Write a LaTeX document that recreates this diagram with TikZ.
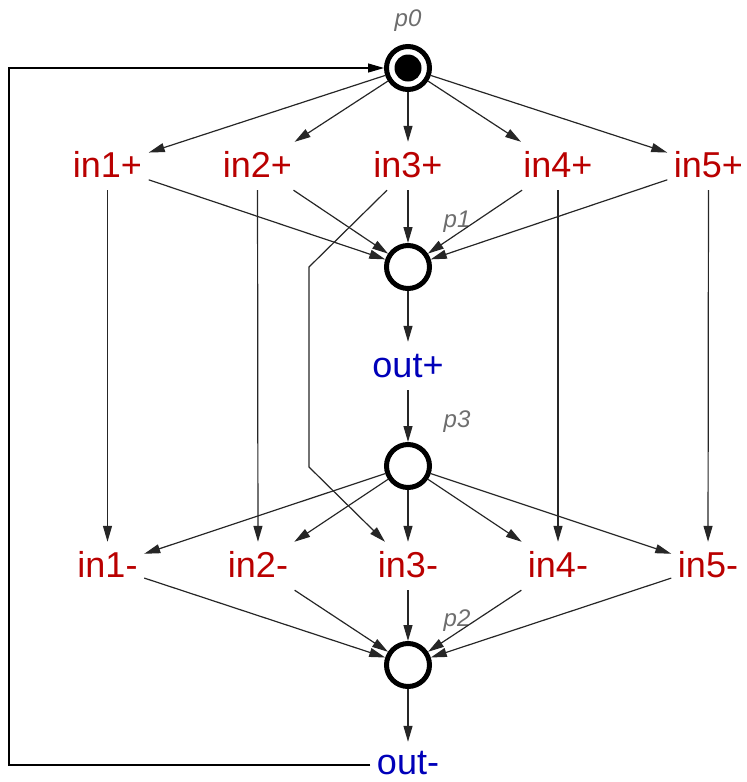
\documentclass[tikz,border=0pt]{standalone}
\usepackage{fontspec}
\setmainfont{Liberation Sans}
\usetikzlibrary{arrows.meta,calc}
\definecolor{tred}{RGB}{185,0,0}
\definecolor{tblue}{RGB}{0,0,185}
\definecolor{lblgray}{RGB}{110,110,110}
\begin{document}
\begin{tikzpicture}[x=1pt,y=-1pt,
  trans/.style={anchor=base, inner xsep=6.5pt, inner ysep=0pt, text height=35pt, text depth=13pt, font=\fontsize{36}{40}\selectfont},
  tin/.style={trans, text=tred},
  tout/.style={trans, text=tblue},
  placenode/.style={circle, draw=black, line width=5pt, minimum size=43pt, inner sep=0pt},
  plabel/.style={anchor=base, text=lblgray, inner sep=0pt, font=\fontsize{24}{26}\selectfont\itshape},
  flow/.style={draw=black!85, line width=1.2pt, -{Triangle[length=16pt,width=9pt]}},
  ]
\useasboundingbox (0,0) rectangle (747,782);

% places
\node[placenode] (p0) at (408,68) {};
\fill[black] (p0.center) circle[radius=13.5pt];
\node[plabel] (lp0) at (408,26) {p0};
\node[placenode] (p1) at (408,267) {};
\node[plabel] (lp1) at (457,227) {p1};
\node[placenode] (p3) at (408,466) {};
\node[plabel] (lp3) at (457,427) {p3};
\node[placenode] (p2) at (408,665) {};
\node[plabel] (lp2) at (457,626) {p2};

% transitions row 1
\node[tin] (i1p) at (107.5,177) {in1+};
\node[tin] (i2p) at (257.5,177) {in2+};
\node[tin] (i3p) at (408,177) {in3+};
\node[tin] (i4p) at (558,177) {in4+};
\node[tin] (i5p) at (708.5,177) {in5+};
\node[tout] (outp) at (408,377) {out+};
% transitions row 2
\node[tin] (i1m) at (107.5,577) {in1-};
\node[tin] (i2m) at (258,577) {in2-};
\node[tin] (i3m) at (408,577) {in3-};
\node[tin] (i4m) at (558,577) {in4-};
\node[tin] (i5m) at (708,577) {in5-};
\node[tout, text height=32pt, text depth=4pt] (outm) at (408,774) {out-};

% p0 -> in+
\foreach \t in {i1p,i2p,i3p,i4p,i5p} \draw[flow] (p0) -- (\t);
% in+ -> p1
\foreach \t in {i1p,i2p,i3p,i4p,i5p} \draw[flow] (\t) -- (p1);
% verticals
\draw[flow] (i1p) -- (i1m);
\draw[flow] (i2p) -- (i2m);
\draw[flow] (i4p) -- (i4m);
\draw[flow] (i5p) -- (i5m);
% in3 bent path
\coordinate (b1) at (309,267);
\coordinate (b2) at (309,467);
\draw[flow] ($(i3p.south)+(-21,0)$) -- (b1) -- (b2) -- ($(i3m.north)+(-23,0)$);
% p1 -> out+ -> p3
\draw[flow] (p1) -- (outp);
\draw[flow] (outp) -- (p3);
% p3 -> in-
\foreach \t in {i1m,i2m,i3m,i4m,i5m} \draw[flow] (p3) -- (\t);
% in- -> p2
\foreach \t in {i1m,i2m,i3m,i4m,i5m} \draw[flow] (\t) -- (p2);
% p2 -> out-
\draw[flow] (p2) -- (outm);
% loop
\coordinate (l0) at ($(outm.west)+(0,5)$);
\coordinate (l1) at (9,765);
\coordinate (l2) at (9,68);
\draw[flow, draw=black] (l0) -- (l1) -- (l2) -- (p0);
\end{tikzpicture}
\end{document}
